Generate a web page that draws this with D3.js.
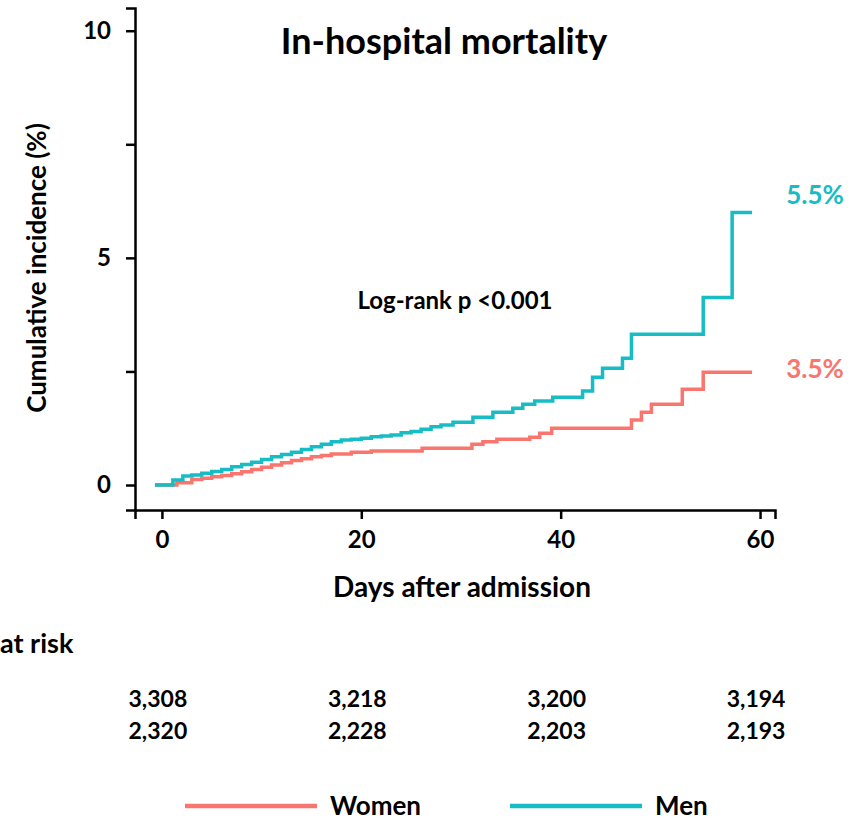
<!DOCTYPE html>
<meta charset="utf-8">
<title>In-hospital mortality</title>
<style>
  body { margin: 0; background: #fff; }
  text { font-family: Lato, "Open Sans", sans-serif; font-weight: bold; }
</style>
<body>
<script src="https://d3js.org/d3.v7.min.js"></script>
<script>

var width = 858,
    height = 821;

// cumulative incidence (%) step points, [day, value]
var menSteps = [
  [-0.7, 0], [1.1, 0.11], [2.1, 0.2], [3, 0.22], [4, 0.26], [5, 0.3], [6, 0.34],
  [7, 0.4], [8, 0.45], [9, 0.5], [10, 0.56], [11, 0.62], [12, 0.67], [13, 0.72],
  [14, 0.78], [15, 0.84], [16, 0.9], [17, 0.95], [18, 0.99], [19, 1.01], [20, 1.03],
  [21, 1.06], [22, 1.08], [23, 1.1], [24, 1.15], [25, 1.18], [26, 1.23], [27, 1.28],
  [28, 1.32], [29.2, 1.38], [31.2, 1.49], [33.2, 1.6], [35.2, 1.69], [36.2, 1.78],
  [37.4, 1.85], [39.2, 1.93], [42.2, 2.07], [43.2, 2.37], [44.2, 2.57], [46.2, 2.79],
  [47.1, 3.32], [54.3, 4.13], [57.2, 6.0], [59.2, 6.0]
];
var womenSteps = [
  [-0.7, 0], [1.5, 0.05], [3, 0.12], [4, 0.15], [5, 0.18], [6, 0.21], [7, 0.25],
  [8, 0.29], [9, 0.34], [10, 0.39], [11, 0.44], [12, 0.49], [13, 0.54], [14, 0.58],
  [15, 0.62], [16, 0.65], [17, 0.68], [19, 0.72], [21, 0.75], [26.1, 0.81],
  [31.1, 0.9], [32.2, 0.95], [33.6, 1.01], [36.9, 1.05], [37.9, 1.14], [39.1, 1.25],
  [47.1, 1.43], [48.1, 1.6], [49.1, 1.78], [52.2, 2.11], [54.3, 2.48], [59.2, 2.48]
];

var xTicks = [0, 20, 40, 60];
var yTicks = [0, 2.5, 5, 7.5, 10];
var yLabels = ["0", "", "5", "", "10"];

var menAtRisk = ["3,308", "3,218", "3,200", "3,194"];
var womenAtRisk = ["2,320", "2,228", "2,203", "2,193"];

var endLabels = [
  {name: "Men", text: "5.5%", color: "#17BCC4"},
  {name: "Women", text: "3.5%", color: "#F8766D"}
];

var x = d3.scaleLinear().domain([-2.7, 61.5]).range([135, 775]);
var y = d3.scaleLinear().domain([-0.55, 10.5]).range([510, 8]);

var svg = d3.select("body").append("svg")
    .attr("width", width)
    .attr("height", height);

// axes
var xAxis = svg.append("g")
    .attr("transform", "translate(0," + y(-0.55) + ")")
    .call(d3.axisBottom(x).tickValues(xTicks).tickSizeOuter(0).tickSize(9).tickPadding(12));
var yAxis = svg.append("g")
    .attr("transform", "translate(" + x(-2.7) + ",0)")
    .call(d3.axisLeft(y).tickValues(yTicks).tickSizeOuter(0).tickSize(9).tickPadding(15)
      .tickFormat(function(d, i) { return yLabels[i]; }));

[xAxis, yAxis].forEach(function(a) {
  a.select(".domain").attr("stroke", "#000").attr("stroke-width", 2.5);
  a.selectAll(".tick line").attr("stroke", "#000").attr("stroke-width", 2.5);
  a.selectAll(".tick text").attr("fill", "#000").style("font-size", "24px")
    .style("font-family", "Lato, sans-serif").style("font-weight", "bold");
});

// curves
var line = d3.line()
    .x(function(d) { return x(d[0]); })
    .y(function(d) { return y(d[1]); })
    .curve(d3.curveStepAfter);

svg.append("path").datum(womenSteps)
    .attr("fill", "none").attr("stroke", "#F8766D").attr("stroke-width", 3.5)
    .attr("d", line);
svg.append("path").datum(menSteps)
    .attr("fill", "none").attr("stroke", "#17BCC4").attr("stroke-width", 3.5)
    .attr("d", line);

// end labels
svg.selectAll("text.endlab").data(endLabels).enter().append("text")
    .attr("class", "endlab")
    .attr("x", 815)
    .attr("y", function(d) { return d.name === "Men" ? 204 : 378; })
    .attr("text-anchor", "middle")
    .attr("fill", function(d) { return d.color; })
    .style("font-size", "26px")
    .text(function(d) { return d.text; });

// titles
svg.append("text").attr("x", 444).attr("y", 54).attr("text-anchor", "middle")
    .style("font-size", "36px").text("In-hospital mortality");
svg.append("text").attr("x", 455).attr("y", 309).attr("text-anchor", "middle")
    .style("font-size", "24px").text("Log-rank p <0.001");
svg.append("text").attr("transform", "translate(46,268) rotate(-90)")
    .attr("text-anchor", "middle").style("font-size", "26px")
    .text("Cumulative incidence (%)");
svg.append("text").attr("x", 462).attr("y", 597).attr("text-anchor", "middle")
    .style("font-size", "28px").text("Days after admission");

// number at risk
svg.append("text").attr("x", 0).attr("y", 653)
    .style("font-size", "27px").text("at risk");
svg.selectAll("text.risk1").data(menAtRisk).enter().append("text")
    .attr("class", "risk1")
    .attr("x", function(d, i) { return x(xTicks[i]) - 4; })
    .attr("y", 707).attr("text-anchor", "middle").style("font-size", "23px")
    .text(function(d) { return d; });
svg.selectAll("text.risk2").data(womenAtRisk).enter().append("text")
    .attr("class", "risk2")
    .attr("x", function(d, i) { return x(xTicks[i]) - 4; })
    .attr("y", 739).attr("text-anchor", "middle").style("font-size", "23px")
    .text(function(d) { return d; });

// legend
var legend = [
  {name: "Women", color: "#F8766D", x0: 185},
  {name: "Men", color: "#17BCC4", x0: 510}
];
var lg = svg.selectAll("g.legend").data(legend).enter().append("g")
    .attr("class", "legend")
    .attr("transform", function(d) { return "translate(" + d.x0 + ",806)"; });
lg.append("line").attr("x1", 0).attr("x2", 132).attr("y1", 0).attr("y2", 0)
    .attr("stroke", function(d) { return d.color; }).attr("stroke-width", 4.5);
lg.append("text").attr("x", 145).attr("y", 9).style("font-size", "26px")
    .text(function(d) { return d.name; });

</script>
